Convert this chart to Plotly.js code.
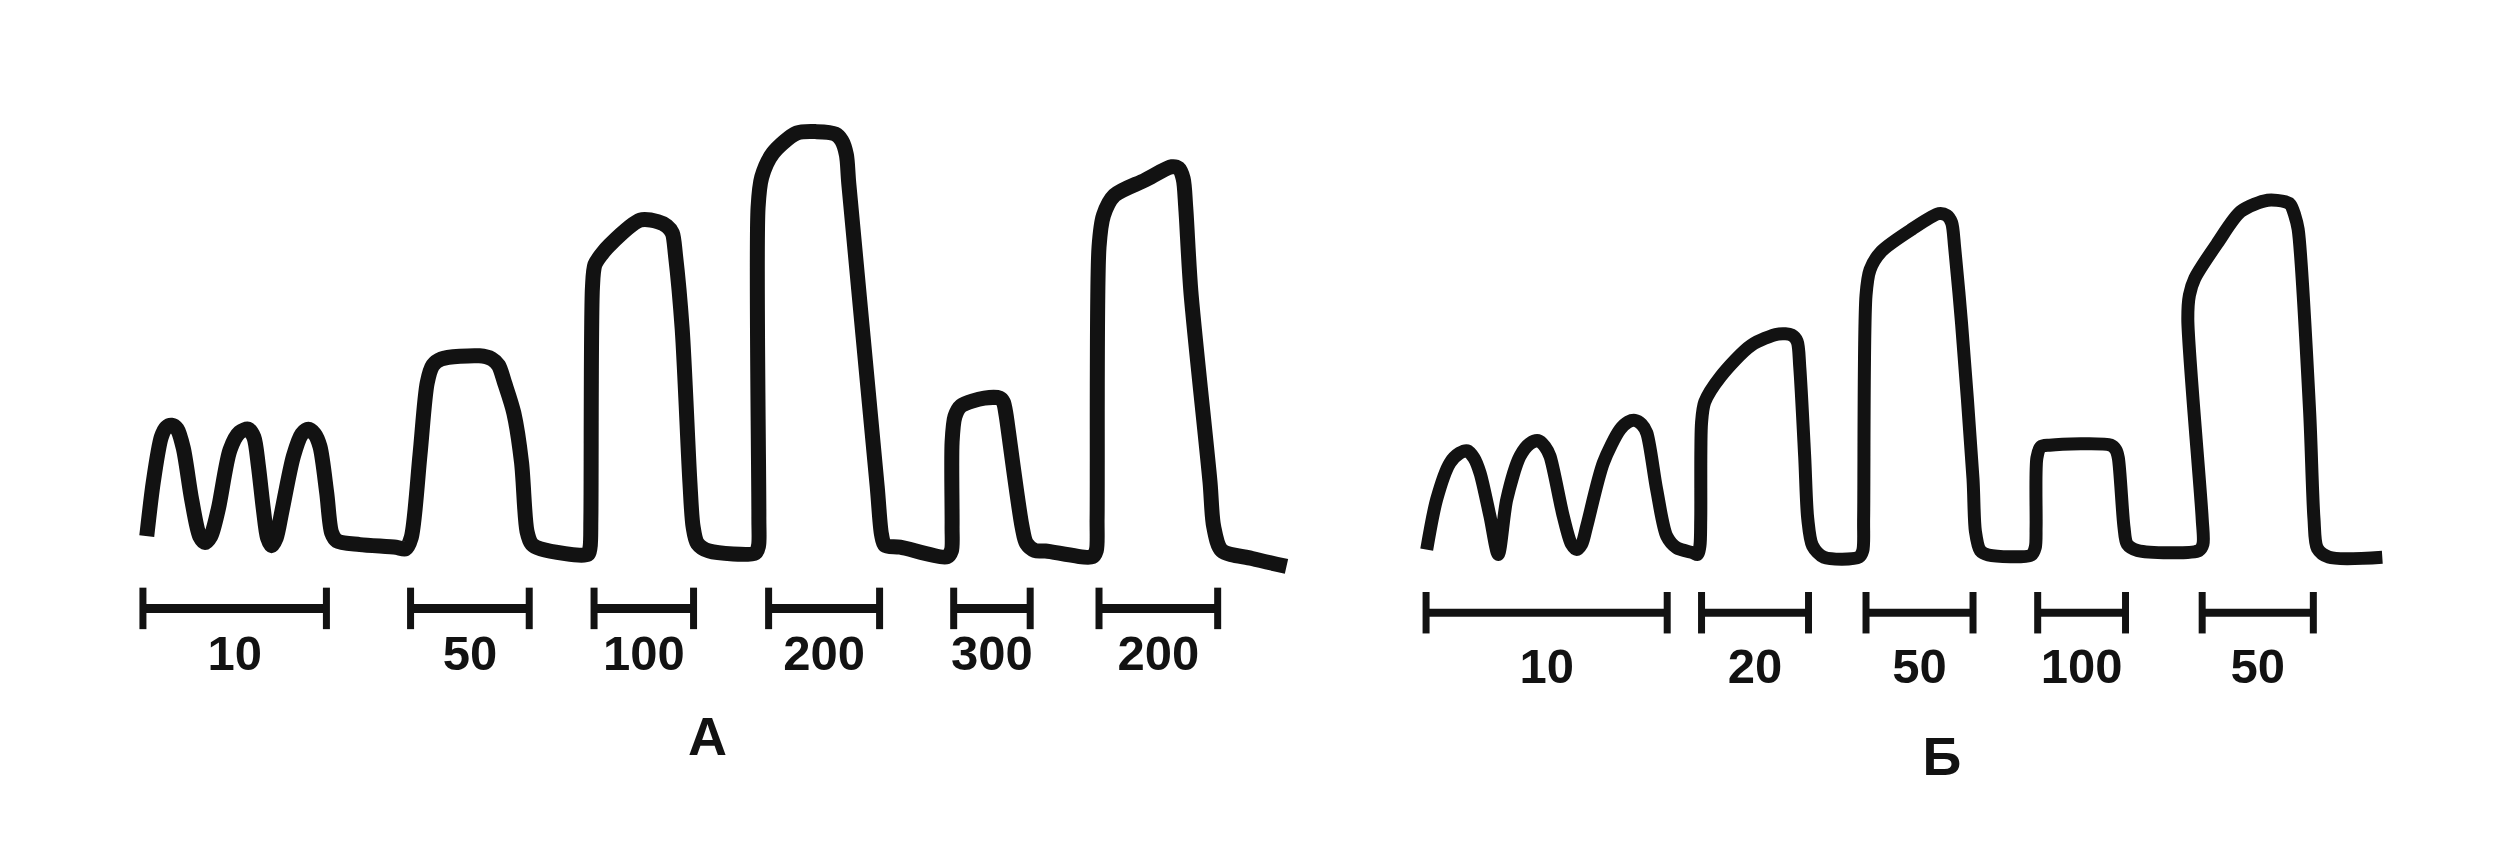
<!DOCTYPE html>
<html>
<head>
<meta charset="utf-8">
<script src="https://cdn.plot.ly/plotly-3.0.1.min.js"></script>
<style>
html,body{margin:0;padding:0;background:#fff;}
#chart{width:2504px;height:842px;}
</style>
</head>
<body>
<div id="chart"></div>
<script>
// ---- Panel А : response trace (time, amplitude; arbitrary units) ----
const timeA = [0.39,0.8,1.3,1.6,1.95,2.3,2.68,3.2,3.7,4.04,4.4,4.87,5.6,6.2,6.75,7.1,7.38,7.69,7.95,8.21,8.5,8.84,9.57,10.1,10.51,10.9,11.24,11.66,11.97,12.3,13.74,16.0,
  16.6,16.95,17.5,17.95,18.3,18.83,21.22,22.0,22.42,22.8,23.38,23.86,24.2,24.5,25.06,28.0,
  28.15,28.2,28.3,28.45,28.9,29.37,31.28,32.4,32.96,33.3,33.5,33.92,34.4,34.6,34.87,35.59,38.5,
  38.7,38.72,38.67,38.9,39.6,41.1,42.34,43.5,43.9,44.2,44.35,46.13,46.4,46.61,47.57,50.5,
  50.78,50.82,50.82,51.0,51.39,52.84,53.8,54.03,54.2,54.3,55.2,55.47,56.0,56.67,59.6,
  59.85,59.9,60.02,60.3,60.98,62.9,64.57,65.0,65.29,65.45,65.77,66.97,67.2,67.7,69.6,71.76];
const respA = [0.9,4.3,7.1,7.7,7.85,7.6,6.4,3.2,0.9,0.5,0.9,2.6,6.3,7.4,7.6,7.1,5.3,2.6,0.8,0.3,0.8,2.4,5.9,7.3,7.6,7.3,6.5,3.6,1.1,0.6,0.37,0.2,
  0.1,0.8,6.0,10.5,11.6,12.0,12.2,12.0,11.6,10.5,8.6,5.5,1.2,0.4,0.1,-0.25,
  0.2,2.0,16.5,17.9,18.6,19.14,20.7,20.6,20.33,19.9,18.5,13.86,4.3,1.5,0.45,-0.03,-0.15,
  0.3,2.0,21.5,23.4,24.9,26.16,26.25,26.1,25.7,24.8,23.0,4.0,1.0,0.33,0.21,-0.39,
  0.0,1.5,6.8,8.4,9.07,9.55,9.55,9.3,8.5,7.8,1.5,0.45,0.0,-0.03,-0.39,
  0.0,2.0,19.0,21.0,22.25,23.21,24.05,23.95,23.3,21.5,16.26,4.3,1.5,0.0,-0.5,-1.0];

// ---- Panel Б : response trace ----
const timeB = [0.34,0.96,1.8,2.4,2.88,3.3,3.68,4.3,4.82,5.35,6.18,6.8,7.33,7.75,8.06,8.89,9.4,9.73,10.05,10.36,11.4,12.44,12.95,13.38,13.8,14.12,14.74,15.37,15.99,17.03,17.3,
  17.45,17.5,17.55,17.75,18.75,20.66,22.34,23.2,23.54,23.7,24.01,24.2,24.5,25.21,27.4,
  27.65,27.7,27.85,28.1,28.8,30.72,32.4,32.9,33.21,33.4,33.83,34.55,34.7,35.0,35.51,38.2,
  38.45,38.5,38.55,38.8,39.34,43.17,43.5,43.65,44.0,44.2,44.85,48.7,
  48.95,48.9,48.0,48.1,48.44,49.88,51.32,53.0,54.1,54.43,54.7,54.91,55.63,55.9,56.11,56.83,60.18];
const respB = [0.06,3.19,5.49,6.1,6.25,5.8,4.86,2.15,-0.25,3.19,5.9,6.7,6.88,6.5,5.9,2.15,0.4,0.06,0.4,1.52,5.49,7.57,8.05,8.15,7.9,7.37,3.82,0.9,0.17,-0.15,-0.25,
  0.3,2.0,8.0,9.3,10.91,12.86,13.56,13.5,13.1,11.5,5.87,2.0,0.3,-0.42,-0.42,
  0.0,2.0,16.0,17.6,18.73,20.13,21.11,21.0,20.55,19.0,14.26,4.47,1.2,0.0,-0.28,-0.28,
  0.2,1.5,5.8,6.5,6.6,6.6,6.3,5.8,1.5,0.4,0.0,0.0,
  0.4,2.0,14.5,16.0,17.06,19.3,21.25,21.95,21.85,21.67,21.0,20.13,8.67,2.0,0.14,-0.42,-0.42];

// ---- Stimulus marks (start, end, label) ----
const stimStartA = [0.15,16.91,28.4,39.33,50.92,60.02];
const stimEndA   = [11.64,24.34,34.63,46.28,55.71,67.45];
const stimLabelA = ["10","50","100","200","300","200"];

const stimStartB = [0.3,17.55,27.85,38.6,48.9];
const stimEndB   = [15.4,24.25,34.55,44.1,55.86];
const stimLabelB = ["10","20","50","100","50"];

const panelLabels = ["А","Б"];

// ---- layout constants (styles / positions) ----
const INK = "#121212";
const barYA = -3.63, barYB = -3.9;
const tickHalf = 1.3;
const labelYA = -6.74, labelYB = -7.55;
const FONT = 'Liberation Sans, Arial, sans-serif';

function barTraces(starts, ends, labels, barY, labelY, xa, lw) {
  const bx = [], by = [], tx = [], ty = [], lx = [], ly = [];
  starts.forEach((s, i) => {
    const e = ends[i];
    bx.push(s, e, null); by.push(barY, barY, null);
    tx.push(s, s, null, e, e, null);
    ty.push(barY + tickHalf, barY - tickHalf, null, barY + tickHalf, barY - tickHalf, null);
    lx.push((s + e) / 2); ly.push(labelY);
  });
  return [
    {x: bx, y: by, xaxis: xa, yaxis: 'y', mode: 'lines', line: {color: INK, width: lw}, hoverinfo: 'skip', showlegend: false},
    {x: tx, y: ty, xaxis: xa, yaxis: 'y', mode: 'lines', line: {color: INK, width: 7}, hoverinfo: 'skip', showlegend: false},
    {x: lx, y: ly, xaxis: xa, yaxis: 'y', mode: 'text', text: labels,
     textfont: {family: FONT, size: 49, color: INK, weight: 'bold'},
     textposition: 'middle center', hoverinfo: 'skip', showlegend: false}
  ];
}

const traces = [
  {x: timeA, y: respA, xaxis: 'x', yaxis: 'y', mode: 'lines',
   line: {color: INK, width: 15, shape: 'spline', smoothing: 0.8}, hoverinfo: 'skip', showlegend: false},
  {x: timeB, y: respB, xaxis: 'x2', yaxis: 'y', mode: 'lines',
   line: {color: INK, width: 13, shape: 'spline', smoothing: 0.8}, hoverinfo: 'skip', showlegend: false},
  ...barTraces(stimStartA, stimEndA, stimLabelA, barYA, labelYA, 'x', 9),
  ...barTraces(stimStartB, stimEndB, stimLabelB, barYB, labelYB, 'x2', 8),
  {x: [35.5], y: [-12.0], xaxis: 'x', yaxis: 'y', mode: 'text', text: [panelLabels[0]],
   textfont: {family: FONT, size: 54, color: INK, weight: 'bold'}, hoverinfo: 'skip', showlegend: false},
  {x: [32.6], y: [-13.2], xaxis: 'x2', yaxis: 'y', mode: 'text', text: [panelLabels[1]],
   textfont: {family: FONT, size: 54, color: INK, weight: 'bold'}, hoverinfo: 'skip', showlegend: false}
];

const hidden = {visible: false, showgrid: false, zeroline: false, fixedrange: true};
const layout = {
  width: 2504, height: 842,
  margin: {l: 0, r: 0, t: 0, b: 0, pad: 0},
  paper_bgcolor: '#ffffff', plot_bgcolor: '#ffffff',
  xaxis: Object.assign({range: [-8.8, 148.0], domain: [0, 1]}, hidden),
  xaxis2: Object.assign({range: [-89.0, 67.8], domain: [0, 1], overlaying: 'x', anchor: 'y'}, hidden),
  yaxis: Object.assign({range: [-18.27, 34.5], domain: [0, 1]}, hidden),
  showlegend: false
};

Plotly.newPlot('chart', traces, layout, {staticPlot: true, displayModeBar: false});
</script>
</body>
</html>
